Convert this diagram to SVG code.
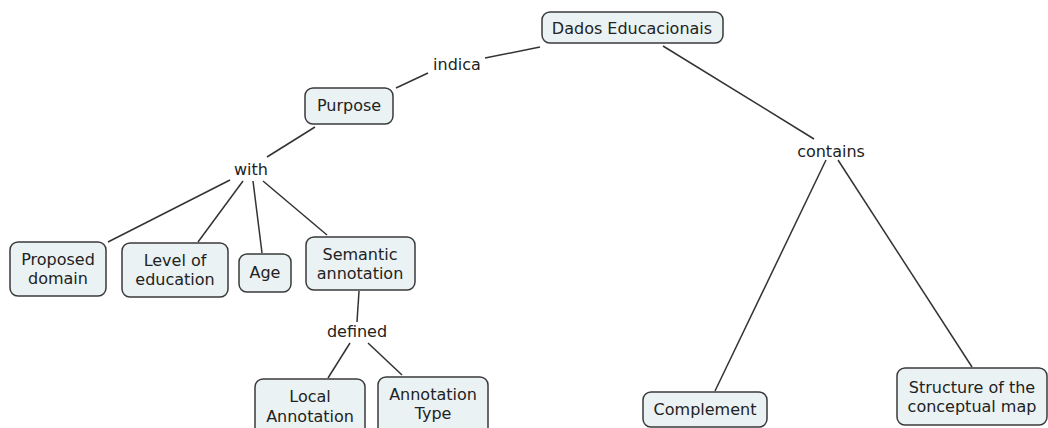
<svg xmlns="http://www.w3.org/2000/svg" width="1048" height="428" viewBox="0 0 1048 428">
<style>
.n rect{fill:#ebf2f4;stroke:#3a3a3a;stroke-width:1.5}
text{font-family:"DejaVu Sans","Liberation Sans",sans-serif;font-size:16px;fill:#222;text-anchor:middle;dominant-baseline:central}
.c line{stroke:#333;stroke-width:1.5}
</style>
<rect width="1048" height="428" fill="#fff"/>
<g class="c">
<line x1="485" y1="58" x2="540" y2="47"/>
<line x1="396" y1="88" x2="428" y2="73"/>
<line x1="315" y1="127" x2="267" y2="157"/>
<line x1="230" y1="180" x2="108" y2="242"/>
<line x1="243" y1="181" x2="198" y2="242"/>
<line x1="253" y1="181" x2="262" y2="253"/>
<line x1="263" y1="181" x2="327" y2="235"/>
<line x1="359" y1="291" x2="357" y2="322"/>
<line x1="350" y1="343" x2="328" y2="378"/>
<line x1="368" y1="343" x2="402" y2="375"/>
<line x1="663" y1="46" x2="814" y2="139"/>
<line x1="826" y1="160" x2="715" y2="391"/>
<line x1="838" y1="160" x2="972" y2="367"/>
</g>
<g id="dados" class="n"><rect x="542" y="12" width="181" height="31" rx="8"/><text x="632" y="28">Dados Educacionais</text></g>
<g id="indica"><text x="457" y="64">indica</text></g>
<g id="purpose" class="n"><rect x="305" y="88" width="88" height="36" rx="8"/><text x="349" y="105">Purpose</text></g>
<g id="with"><text x="251" y="169">with</text></g>
<g id="proposed" class="n"><rect x="10" y="242" width="96" height="54" rx="8"/><text x="58" y="259">Proposed</text><text x="58" y="278">domain</text></g>
<g id="level" class="n"><rect x="122" y="243" width="106" height="54" rx="8"/><text x="175" y="260">Level of</text><text x="175" y="279">education</text></g>
<g id="age" class="n"><rect x="239" y="254" width="52" height="38" rx="8"/><text x="265" y="272">Age</text></g>
<g id="semantic" class="n"><rect x="306" y="237" width="109" height="53" rx="8"/><text x="360" y="254">Semantic</text><text x="360" y="273">annotation</text></g>
<g id="defined"><text x="357" y="331">defined</text></g>
<g id="local" class="n"><rect x="255" y="379" width="110" height="60" rx="8"/><text x="310" y="396">Local</text><text x="310" y="416">Annotation</text></g>
<g id="anntype" class="n"><rect x="378" y="377" width="110" height="60" rx="8"/><text x="433" y="394">Annotation</text><text x="433" y="413">Type</text></g>
<g id="contains"><text x="831" y="151">contains</text></g>
<g id="complement" class="n"><rect x="643" y="392" width="124" height="35" rx="8"/><text x="705" y="409">Complement</text></g>
<g id="structure" class="n"><rect x="897" y="368" width="150" height="57" rx="8"/><text x="972" y="387">Structure of the</text><text x="972" y="406">conceptual map</text></g>
</svg>
